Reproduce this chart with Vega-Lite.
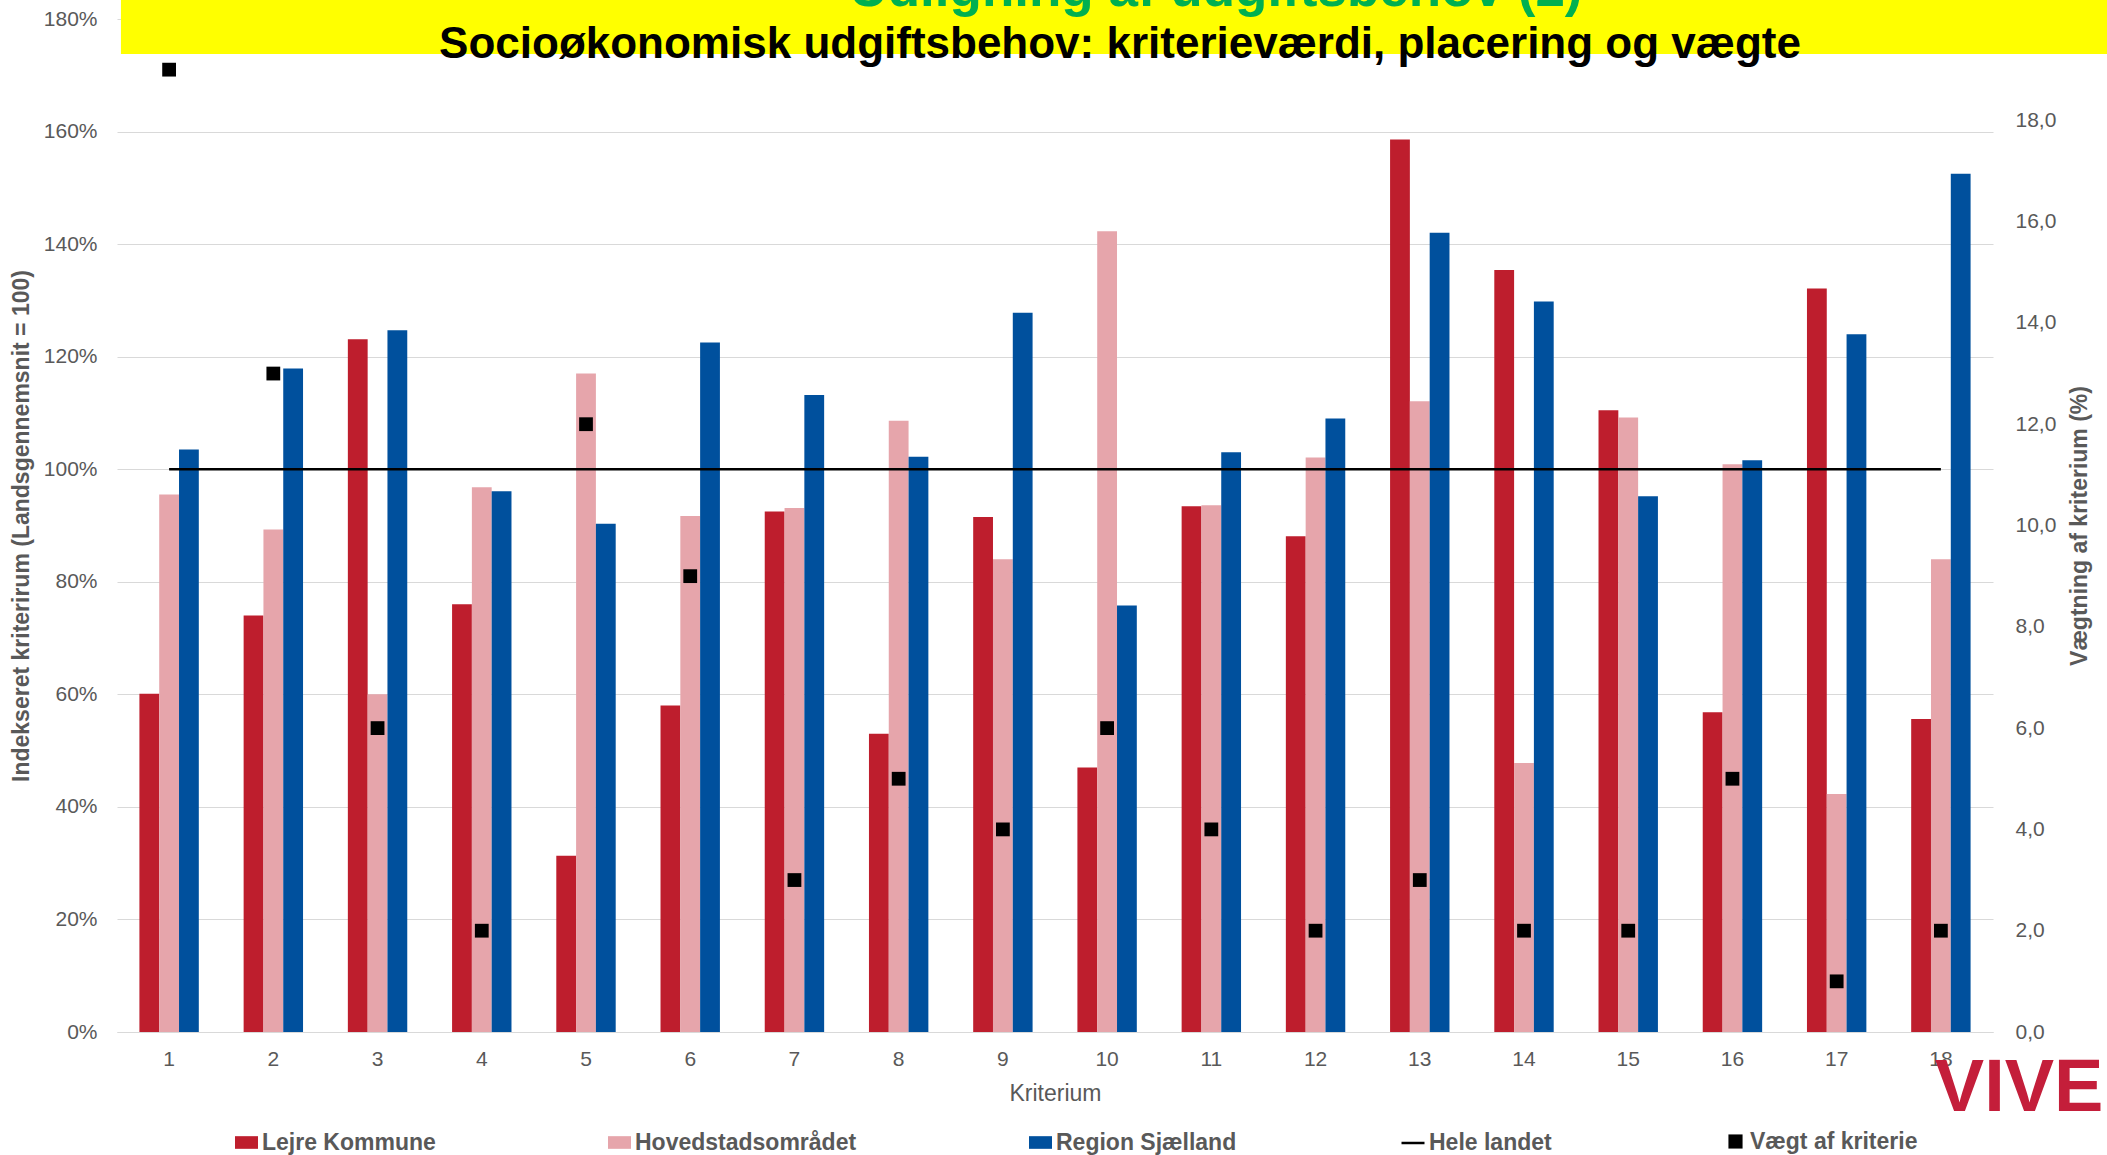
{
  "$schema": "https://vega.github.io/schema/vega-lite/v6.json",
  "width": 1876,
  "height": 1013,
  "autosize": {"type": "none"},
  "padding": {"left": 117, "top": 19, "right": 114, "bottom": 123},
  "background": "white",
  "config": {
    "view": {"stroke": null},
    "font": "Liberation Sans"
  },
  "title": {
    "text": "Socioøkonomisk udgiftsbehov: kriterieværdi, placering og vægte",
    "font": "Liberation Sans",
    "fontSize": 44,
    "fontWeight": "bold",
    "color": "#000000",
    "anchor": "middle",
    "frame": "group",
    "dx": 65,
    "offset": -103,
    "zindex": 1
  },
  "data": {
    "values": [
      {"kriterium": 1, "serie": "Lejre Kommune", "vaerdi": 0.601},
      {"kriterium": 1, "serie": "Hovedstadsområdet", "vaerdi": 0.955},
      {"kriterium": 1, "serie": "Region Sjælland", "vaerdi": 1.035},
      {"kriterium": 2, "serie": "Lejre Kommune", "vaerdi": 0.740},
      {"kriterium": 2, "serie": "Hovedstadsområdet", "vaerdi": 0.893},
      {"kriterium": 2, "serie": "Region Sjælland", "vaerdi": 1.179},
      {"kriterium": 3, "serie": "Lejre Kommune", "vaerdi": 1.231},
      {"kriterium": 3, "serie": "Hovedstadsområdet", "vaerdi": 0.600},
      {"kriterium": 3, "serie": "Region Sjælland", "vaerdi": 1.247},
      {"kriterium": 4, "serie": "Lejre Kommune", "vaerdi": 0.760},
      {"kriterium": 4, "serie": "Hovedstadsområdet", "vaerdi": 0.968},
      {"kriterium": 4, "serie": "Region Sjælland", "vaerdi": 0.961},
      {"kriterium": 5, "serie": "Lejre Kommune", "vaerdi": 0.313},
      {"kriterium": 5, "serie": "Hovedstadsområdet", "vaerdi": 1.170},
      {"kriterium": 5, "serie": "Region Sjælland", "vaerdi": 0.903},
      {"kriterium": 6, "serie": "Lejre Kommune", "vaerdi": 0.580},
      {"kriterium": 6, "serie": "Hovedstadsområdet", "vaerdi": 0.917},
      {"kriterium": 6, "serie": "Region Sjælland", "vaerdi": 1.225},
      {"kriterium": 7, "serie": "Lejre Kommune", "vaerdi": 0.925},
      {"kriterium": 7, "serie": "Hovedstadsområdet", "vaerdi": 0.931},
      {"kriterium": 7, "serie": "Region Sjælland", "vaerdi": 1.132},
      {"kriterium": 8, "serie": "Lejre Kommune", "vaerdi": 0.530},
      {"kriterium": 8, "serie": "Hovedstadsområdet", "vaerdi": 1.086},
      {"kriterium": 8, "serie": "Region Sjælland", "vaerdi": 1.022},
      {"kriterium": 9, "serie": "Lejre Kommune", "vaerdi": 0.915},
      {"kriterium": 9, "serie": "Hovedstadsområdet", "vaerdi": 0.840},
      {"kriterium": 9, "serie": "Region Sjælland", "vaerdi": 1.278},
      {"kriterium": 10, "serie": "Lejre Kommune", "vaerdi": 0.470},
      {"kriterium": 10, "serie": "Hovedstadsområdet", "vaerdi": 1.423},
      {"kriterium": 10, "serie": "Region Sjælland", "vaerdi": 0.758},
      {"kriterium": 11, "serie": "Lejre Kommune", "vaerdi": 0.934},
      {"kriterium": 11, "serie": "Hovedstadsområdet", "vaerdi": 0.936},
      {"kriterium": 11, "serie": "Region Sjælland", "vaerdi": 1.030},
      {"kriterium": 12, "serie": "Lejre Kommune", "vaerdi": 0.881},
      {"kriterium": 12, "serie": "Hovedstadsområdet", "vaerdi": 1.021},
      {"kriterium": 12, "serie": "Region Sjælland", "vaerdi": 1.090},
      {"kriterium": 13, "serie": "Lejre Kommune", "vaerdi": 1.586},
      {"kriterium": 13, "serie": "Hovedstadsområdet", "vaerdi": 1.121},
      {"kriterium": 13, "serie": "Region Sjælland", "vaerdi": 1.420},
      {"kriterium": 14, "serie": "Lejre Kommune", "vaerdi": 1.354},
      {"kriterium": 14, "serie": "Hovedstadsområdet", "vaerdi": 0.478},
      {"kriterium": 14, "serie": "Region Sjælland", "vaerdi": 1.298},
      {"kriterium": 15, "serie": "Lejre Kommune", "vaerdi": 1.105},
      {"kriterium": 15, "serie": "Hovedstadsområdet", "vaerdi": 1.092},
      {"kriterium": 15, "serie": "Region Sjælland", "vaerdi": 0.952},
      {"kriterium": 16, "serie": "Lejre Kommune", "vaerdi": 0.568},
      {"kriterium": 16, "serie": "Hovedstadsområdet", "vaerdi": 1.009},
      {"kriterium": 16, "serie": "Region Sjælland", "vaerdi": 1.016},
      {"kriterium": 17, "serie": "Lejre Kommune", "vaerdi": 1.321},
      {"kriterium": 17, "serie": "Hovedstadsområdet", "vaerdi": 0.423},
      {"kriterium": 17, "serie": "Region Sjælland", "vaerdi": 1.240},
      {"kriterium": 18, "serie": "Lejre Kommune", "vaerdi": 0.556},
      {"kriterium": 18, "serie": "Hovedstadsområdet", "vaerdi": 0.840},
      {"kriterium": 18, "serie": "Region Sjælland", "vaerdi": 1.525},
      {"kriterium": 1, "serie": "Hele landet", "vaerdi": 1.0},
      {"kriterium": 2, "serie": "Hele landet", "vaerdi": 1.0},
      {"kriterium": 3, "serie": "Hele landet", "vaerdi": 1.0},
      {"kriterium": 4, "serie": "Hele landet", "vaerdi": 1.0},
      {"kriterium": 5, "serie": "Hele landet", "vaerdi": 1.0},
      {"kriterium": 6, "serie": "Hele landet", "vaerdi": 1.0},
      {"kriterium": 7, "serie": "Hele landet", "vaerdi": 1.0},
      {"kriterium": 8, "serie": "Hele landet", "vaerdi": 1.0},
      {"kriterium": 9, "serie": "Hele landet", "vaerdi": 1.0},
      {"kriterium": 10, "serie": "Hele landet", "vaerdi": 1.0},
      {"kriterium": 11, "serie": "Hele landet", "vaerdi": 1.0},
      {"kriterium": 12, "serie": "Hele landet", "vaerdi": 1.0},
      {"kriterium": 13, "serie": "Hele landet", "vaerdi": 1.0},
      {"kriterium": 14, "serie": "Hele landet", "vaerdi": 1.0},
      {"kriterium": 15, "serie": "Hele landet", "vaerdi": 1.0},
      {"kriterium": 16, "serie": "Hele landet", "vaerdi": 1.0},
      {"kriterium": 17, "serie": "Hele landet", "vaerdi": 1.0},
      {"kriterium": 18, "serie": "Hele landet", "vaerdi": 1.0},
      {"kriterium": 1, "serie": "Vægt af kriterie", "vaerdi": 19},
      {"kriterium": 2, "serie": "Vægt af kriterie", "vaerdi": 13},
      {"kriterium": 3, "serie": "Vægt af kriterie", "vaerdi": 6},
      {"kriterium": 4, "serie": "Vægt af kriterie", "vaerdi": 2},
      {"kriterium": 5, "serie": "Vægt af kriterie", "vaerdi": 12},
      {"kriterium": 6, "serie": "Vægt af kriterie", "vaerdi": 9},
      {"kriterium": 7, "serie": "Vægt af kriterie", "vaerdi": 3},
      {"kriterium": 8, "serie": "Vægt af kriterie", "vaerdi": 5},
      {"kriterium": 9, "serie": "Vægt af kriterie", "vaerdi": 4},
      {"kriterium": 10, "serie": "Vægt af kriterie", "vaerdi": 6},
      {"kriterium": 11, "serie": "Vægt af kriterie", "vaerdi": 4},
      {"kriterium": 12, "serie": "Vægt af kriterie", "vaerdi": 2},
      {"kriterium": 13, "serie": "Vægt af kriterie", "vaerdi": 3},
      {"kriterium": 14, "serie": "Vægt af kriterie", "vaerdi": 2},
      {"kriterium": 15, "serie": "Vægt af kriterie", "vaerdi": 2},
      {"kriterium": 16, "serie": "Vægt af kriterie", "vaerdi": 5},
      {"kriterium": 17, "serie": "Vægt af kriterie", "vaerdi": 1},
      {"kriterium": 18, "serie": "Vægt af kriterie", "vaerdi": 2}
    ]
  },
  "layer": [
    {
      "encoding": {
        "x": {
          "field": "kriterium",
          "type": "ordinal",
          "scale": {"paddingInner": 0.43, "paddingOuter": 0.215},
          "axis": {
            "title": "Kriterium",
            "titleFont": "Liberation Sans",
            "titleFontSize": 23,
            "titleFontWeight": "normal",
            "titleColor": "#595959",
            "titlePadding": 13,
            "labelFont": "Liberation Sans",
            "labelFontSize": 21,
            "labelColor": "#595959",
            "labelAngle": 0,
            "labelPadding": 16,
            "ticks": false,
            "domainColor": "#D9D9D9",
            "domainWidth": 1,
            "grid": false
          }
        }
      },
      "layer": [
        {
          "encoding": {
            "y": {
              "field": "vaerdi",
              "type": "quantitative",
              "scale": {"domain": [0, 1.8], "nice": false},
              "axis": {
                "title": "Indekseret kriterirum (Landsgennemsnit = 100)",
                "values": [0, 0.2, 0.4, 0.6, 0.8, 1.0, 1.2, 1.4, 1.6, 1.8],
                "format": ".0%",
                "titleFont": "Liberation Sans",
                "titleFontSize": 23,
                "titleFontWeight": "bold",
                "titleColor": "#595959",
                "titlePadding": 10,
                "labelFont": "Liberation Sans",
                "labelFontSize": 21,
                "labelColor": "#595959",
                "labelPadding": 20,
                "ticks": false,
                "domain": false,
                "grid": true,
                "gridColor": "#D9D9D9",
                "gridWidth": 1
              }
            }
          },
          "layer": [
            {
              "transform": [{"filter": "datum.serie !== 'Hele landet' && datum.serie !== 'Vægt af kriterie'"}],
              "mark": {"type": "bar"},
              "encoding": {
                "xOffset": {
                  "field": "serie",
                  "type": "nominal",
                  "scale": {"domain": ["Lejre Kommune", "Hovedstadsområdet", "Region Sjælland"], "paddingInner": 0, "paddingOuter": 0}
                },
                "fill": {
                  "field": "serie",
                  "type": "nominal",
                  "scale": {
                    "domain": ["Lejre Kommune", "Hovedstadsområdet", "Region Sjælland"],
                    "range": ["#BE1E2D", "#E6A5AB", "#00509D"]
                  },
                  "legend": {
                    "title": null,
                    "orient": "none",
                    "legendX": 117,
                    "legendY": 1111,
                    "direction": "horizontal",
                    "columns": 3,
                    "gridAlign": "none",
                    "columnPadding": 171,
                    "padding": 0,
                    "symbolType": "M-1,-0.55H1V0.55H-1Z",
                    "symbolSize": 529,
                    "labelFont": "Liberation Sans",
                    "labelFontSize": 23,
                    "labelFontWeight": "bold",
                    "labelColor": "#595959",
                    "labelOffset": 3,
                    "labelLimit": 400
                  }
                }
              }
            },
            {
              "transform": [{"filter": "datum.serie === 'Hele landet'"}],
              "mark": {"type": "line", "strokeWidth": 2.5},
              "encoding": {
                "stroke": {
                  "field": "serie",
                  "type": "nominal",
                  "scale": {"domain": ["Hele landet"], "range": ["#000000"]},
                  "legend": {
                    "title": null,
                    "orient": "none",
                    "legendX": 1283,
                    "legendY": 1111,
                    "direction": "horizontal",
                    "padding": 0,
                    "symbolType": "stroke",
                    "symbolSize": 529,
                    "symbolStrokeWidth": 2.5,
                    "labelFont": "Liberation Sans",
                    "labelFontSize": 23,
                    "labelFontWeight": "bold",
                    "labelColor": "#595959",
                    "labelOffset": 3,
                    "labelLimit": 400
                  }
                }
              }
            }
          ]
        },
        {
          "transform": [{"filter": "datum.serie === 'Vægt af kriterie'"}],
          "mark": {"type": "point", "filled": true, "opacity": 1, "size": 190, "color": "#000000"},
          "encoding": {
            "y": {
              "field": "vaerdi",
              "type": "quantitative",
              "scale": {"domain": [0, 20], "nice": false},
              "axis": {
                "orient": "right",
                "title": "Vægtning af kriterium (%)",
                "titleAngle": 270,
                "values": [0, 2, 4, 6, 8, 10, 12, 14, 16, 18],
                "format": ".1f",
                "labelExpr": "replace(datum.label, '.', ',')",
                "titleFont": "Liberation Sans",
                "titleFontSize": 23,
                "titleFontWeight": "bold",
                "titleColor": "#595959",
                "titlePadding": 36,
                "labelFont": "Liberation Sans",
                "labelFontSize": 21,
                "labelColor": "#595959",
                "labelPadding": 22,
                "ticks": false,
                "domain": false,
                "grid": false
              }
            },
            "shape": {
              "field": "serie",
              "type": "nominal",
              "scale": {"domain": ["Vægt af kriterie"], "range": ["square"]},
              "legend": {
                "title": null,
                "orient": "none",
                "legendX": 1607,
                "legendY": 1111,
                "direction": "horizontal",
                "padding": 0,
                "symbolSize": 200,
                "symbolFillColor": "#000000",
                "symbolStrokeWidth": 0,
                "labelFont": "Liberation Sans",
                "labelFontSize": 23,
                "labelFontWeight": "bold",
                "labelColor": "#595959",
                "labelOffset": 3,
                "labelLimit": 400
              }
            }
          }
        }
      ],
      "resolve": {"scale": {"y": "independent"}}
    },
    {
      "layer": [
        {
          "data": {"values": [{"felt": "titelbånd"}]},
          "mark": {"type": "rect", "color": "#FFFF00"},
          "encoding": {
            "x": {"datum": 0.0021, "type": "quantitative", "scale": {"domain": [0, 1], "nice": false, "zero": false}, "axis": null},
            "x2": {"datum": 1.061},
            "y": {"datum": 0.9655, "type": "quantitative", "scale": {"domain": [0, 1], "nice": false, "zero": false}, "axis": null},
            "y2": {"datum": 1.0188}
          }
        },
        {
          "data": {"values": [{"tekst": "Udligning af udgiftsbehov (2)"}]},
          "mark": {"type": "text", "font": "Liberation Sans", "fontSize": 53, "fontWeight": "bold", "color": "#00B050", "align": "center", "baseline": "alphabetic"},
          "encoding": {
            "x": {"datum": 0.5858, "type": "quantitative", "scale": {"domain": [0, 1], "nice": false, "zero": false}, "axis": null},
            "y": {"datum": 1.0128, "type": "quantitative", "scale": {"domain": [0, 1], "nice": false, "zero": false}, "axis": null},
            "text": {"field": "tekst"}
          }
        },
        {
          "data": {"values": [{"tekst": "VIVE"}]},
          "mark": {"type": "text", "font": "Liberation Sans", "fontSize": 74, "fontWeight": "bold", "color": "#C41E3A", "align": "left", "baseline": "alphabetic"},
          "encoding": {
            "x": {"datum": 0.969, "type": "quantitative", "scale": {"domain": [0, 1], "nice": false, "zero": false}, "axis": null},
            "y": {"datum": -0.078, "type": "quantitative", "scale": {"domain": [0, 1], "nice": false, "zero": false}, "axis": null},
            "text": {"field": "tekst"}
          }
        }
      ]
    }
  ],
  "resolve": {"scale": {"x": "independent", "y": "independent"}}
}
